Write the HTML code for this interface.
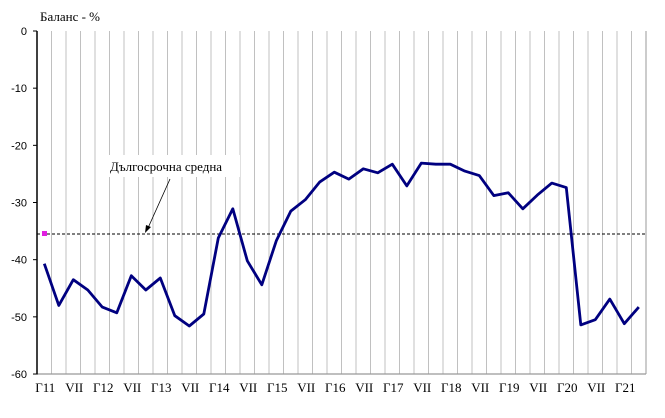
<!DOCTYPE html>
<html><head><meta charset="utf-8"><style>
html,body{margin:0;padding:0;background:#fff;}
svg{display:block;}
</style></head><body>
<svg width="665" height="418" xmlns="http://www.w3.org/2000/svg">
<g id="grid" stroke="#c0c0c0" stroke-width="1"></g>
<line x1="37" y1="374" x2="646" y2="374" stroke="#999" stroke-width="1.2"/>
<line x1="646" y1="31" x2="646" y2="374" stroke="#999" stroke-width="1"/>
<line x1="37" y1="31" x2="37" y2="374.5" stroke="#000" stroke-width="1.5"/>
<g id="yt" font-family="Liberation Sans, sans-serif" font-size="11" text-anchor="end" fill="#000"></g>
<g id="xt" font-family="Liberation Serif, serif" font-size="13" text-anchor="middle" fill="#000"></g>
<text x="40" y="21" font-family="Liberation Serif, serif" font-size="13">Баланс - %</text>
<line x1="37" y1="234" x2="646" y2="234" stroke="#000" stroke-width="1" stroke-dasharray="3,2"/>
<rect x="42" y="231" width="5" height="5" fill="#e020e0"/>
<rect x="105" y="155" width="135" height="22" fill="#fff"/>
<text x="110" y="171" font-family="Liberation Serif, serif" font-size="13">Дългосрочна средна</text>
<line x1="170" y1="179" x2="148" y2="228" stroke="#000" stroke-width="0.8"/>
<polygon points="145,233 146,225 151,227" fill="#000"/>
<polyline id="ln" fill="none" stroke="#000080" stroke-width="2.8" stroke-linejoin="round"/>
</svg>
<script>
var ns="http://www.w3.org/2000/svg";
function el(t,a,p,txt){var e=document.createElementNS(ns,t);for(var k in a)e.setAttribute(k,a[k]);if(txt)e.textContent=txt;document.getElementById(p).appendChild(e);}
var w=14.5;
for(var i=1;i<42;i++){el('line',{x1:37+w*i,y1:31,x2:37+w*i,y2:374},'grid');}
for(var v=0;v<=6;v++){var y=31+v*57.17;el('text',{x:27,y:y+4},'yt',v==0?'0':'-'+v*10);el('line',{x1:33,y1:y,x2:37,y2:y,stroke:'#000'},'grid');}
var lab=['Г11','VII','Г12','VII','Г13','VII','Г14','VII','Г15','VII','Г16','VII','Г17','VII','Г18','VII','Г19','VII','Г20','VII','Г21'];
lab.forEach(function(l,j){el('text',{x:37+w*(2*j+0.5)+1,y:392},'xt',l);});
var d=[-40.7,-48,-43.5,-45.3,-48.3,-49.3,-42.8,-45.3,-43.2,-49.8,-51.6,-49.5,-36.2,-31.1,-40.2,-44.4,-36.7,-31.5,-29.5,-26.4,-24.7,-25.9,-24.1,-24.8,-23.3,-27.1,-23.1,-23.3,-23.3,-24.5,-25.3,-28.8,-28.3,-31.1,-28.7,-26.6,-27.4,-51.4,-50.5,-46.9,-51.2,-48.3];
document.getElementById('ln').setAttribute('points',d.map(function(v,i){return (37+w*(i+0.5)).toFixed(1)+','+(31-v*5.717).toFixed(1);}).join(' '));
</script>
</body></html>
